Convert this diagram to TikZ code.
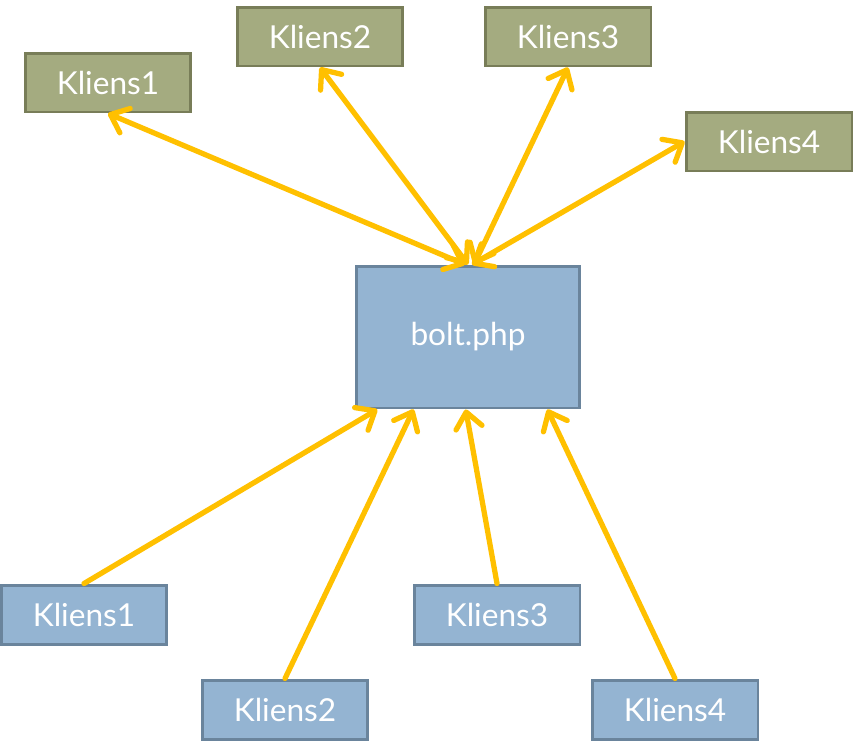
\documentclass[tikz,border=0pt]{standalone}
\usepackage{fontspec}
\setsansfont{Lato}
\usetikzlibrary{arrows.meta,calc}
\definecolor{ClientGreen}{HTML}{A4AB80}
\definecolor{GreenEdge}{HTML}{787D58}
\definecolor{ServerBlue}{HTML}{94B4D2}
\definecolor{BlueEdge}{HTML}{6A849C}
\definecolor{LinkYellow}{HTML}{FFC000}

\begin{document}
\begin{tikzpicture}[x=0.02cm, y=-0.02cm,
  every node/.style={font=\sffamily\fontsize{18}{20}\selectfont, text=white},
  greenbox/.style={draw=GreenEdge, fill=ClientGreen, line width=1.7pt,
    minimum width=3.32cm, minimum height=1.18cm, inner sep=0pt},
  bluebox/.style={draw=BlueEdge, fill=ServerBlue, line width=1.7pt,
    minimum width=3.32cm, minimum height=1.18cm, inner sep=0pt},
  barb/.tip={Straight Barb[length=9pt, width=15pt, round]},
  link/.style={draw=LinkYellow, line width=3pt, line cap=round, -barb},
  twoway/.style={link, barb-barb}]
  \useasboundingbox (0,0) rectangle (854,754);

  % server
  \node[bluebox, minimum width=4.48cm, minimum height=2.84cm] (bolt) at (468,337) {bolt.php};

  % upper clients
  \node[greenbox] (kt1) at (108,82.5) {Kliens1};
  \node[greenbox] (kt2) at (320,36.5) {Kliens2};
  \node[greenbox] (kt3) at (568,36.5) {Kliens3};
  \node[greenbox] (kt4) at (769,141.5) {Kliens4};

  % lower clients
  \node[bluebox] (kb1) at (84,614.5) {Kliens1};
  \node[bluebox] (kb2) at (285,709.5) {Kliens2};
  \node[bluebox] (kb3) at (497,614.5) {Kliens3};
  \node[bluebox] (kb4) at (675,709.5) {Kliens4};

  \draw[twoway] (kt1.south) -- ($(bolt.north)+(-3,0)$);
  \draw[twoway] (kt2.south) -- (bolt.north);
  \draw[twoway] (kt3.south) -- ($(bolt.north)+(6,0)$);
  \draw[twoway] (kt4.west) -- ($(bolt.north)+(4,0)$);

  \draw[link] (kb1.north) -- ($(bolt.south west)!0.1!(bolt.south east)$);
  \draw[link] (kb2.north) -- ($(bolt.south west)!0.26!(bolt.south east)$);
  \draw[link] (kb3.north) -- ($(bolt.south west)!0.49!(bolt.south east)$);
  \draw[link] (kb4.north) -- ($(bolt.south west)!0.85!(bolt.south east)$);
\end{tikzpicture}
\end{document}
